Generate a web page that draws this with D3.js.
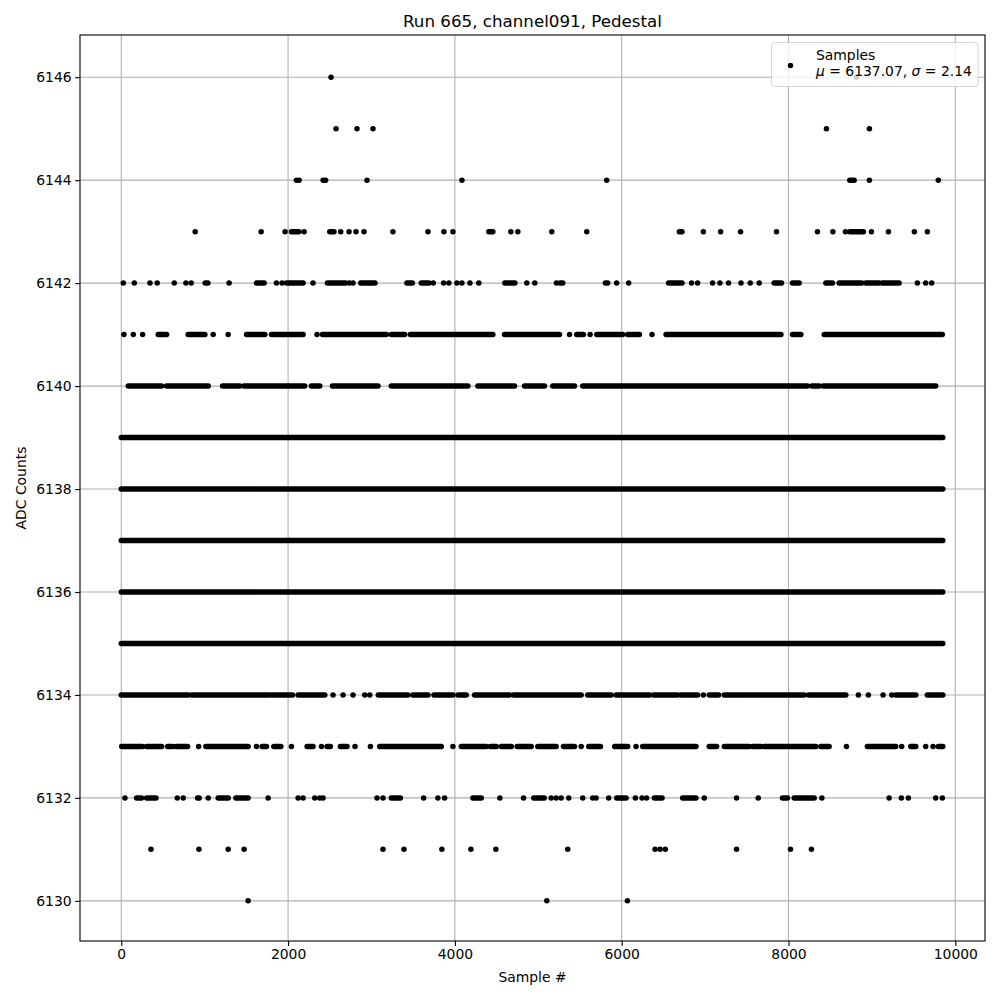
<!DOCTYPE html>
<html>
<head>
<meta charset="utf-8">
<script src="https://cdn.jsdelivr.net/npm/d3@7"></script>
<style>
    body { margin: 0; background: #fff; }
    text { font-family: "DejaVu Sans", sans-serif; fill: #000; }
</style>
</head>
<body>
<div id="chart"></div>
<script>

// Samples, one list per ADC level.
// A plain number is one sample, a [from, to] pair is a dense run of samples.
const row6130 = [1521, 5102, 6068];
const row6131 = [356, 931, 1282, 1473, 3138, 3389, 3844, 4192, 4491, 5353, 6400, 6460, 6523, 7377, 8024, 8275];
const row6132 = [44, [184, 244], [304, 416], 671, 743, 915, 934, 1042, [1162, 1282], [1374, 1521], 1761, 2120, 2180,
    2320, 2380, 2419, 3066, 3138, [3238, 3346], 3625, 3796, 3877, [4216, 4316], 4539, 4823, [4946, 5071], 5154, 5214,
    5274, 5365, 5533, 5653, 5693, 5844, [5940, 6052], 6164, 6244, 6299, [6392, 6484], [6731, 6891], 6990, 7377, 7637,
    [7928, 7988], [8068, 8308], 8400, 9206, 9353, 9437, 9765, 9844];
const row6133 = [[5, 256], [304, 484], [556, 616], [655, 795], 927, [1014, 1521], 1621, [1689, 1741], [1829, 1913],
    2040, [2228, 2299], 2400, [2467, 2507], [2627, 2707], 2802, 2987, [3098, 3837], 3976, [4077, 4376], [4424, 4496],
    [4556, 4676], [4747, 4915], [4994, 5214], [5302, 5434], 5514, [5605, 5745], [5916, 6072], 6172, [6251, 6891],
    [7050, 7138], [7230, 7529], [7569, 7669], [7709, 8328], [8388, 8487], 8695, [8946, 9286], 9357, [9466, 9526],
    9645, 9733, [9796, 9850]];
const row6134 = [[0, 802], [843, 1781], [1813, 2053], [2120, 2440], 2539, 2659, 2779, 2919, 2979, [3082, 3437],
    [3497, 3677], [3749, 3976], [4036, 4136], [4236, 4655], [4703, 5514], [5593, 5873], [5933, 6332], [6380, 6671],
    [6711, 6910], 6979, [7050, 7162], [7230, 7549], [7577, 8188], [8240, 8687], 8838, 8958, 9134, 9238, [9286, 9526],
    [9665, 9850]];
const row6135 = [[0, 9850]];
const row6136 = [[0, 9850]];
const row6137 = [[0, 9850]];
const row6138 = [[0, 9850]];
const row6139 = [[0, 9850]];
const row6140 = [[84, 484], [544, 1042], [1214, 1421], [1469, 2200], [2280, 2380], [2532, 3078], [3238, 4156],
    [4276, 4715], [4835, 5074], [5174, 5434], [5533, 8228], [8280, 8368], [8416, 9765]];
const row6141 = [32, 144, 256, [443, 544], [802, 1002], 1102, 1282, [1502, 1721], [1801, 2180], 2347, [2412, 3178],
    [3238, 3398], [3466, 4455], [4595, 5254], 5374, [5461, 5541], 5621, [5701, 6012], [6072, 6212], 6364,
    [6532, 7909], [8048, 8148], [8428, 9844]];
const row6142 = [24, 156, 344, 431, 635, 775, 838, [1006, 1038], 1293, [1621, 1713], 1861, 1928, [1981, 2180], 2299,
    [2472, 2690], 2735, 2778, [2871, 3042], [3425, 3490], [3597, 3689], 3741, 3865, 3928, 4024, 4084, 4180, 4287,
    [4599, 4719], 4862, 4958, 5218, [5262, 5293], [5805, 5832], 5940, 6084, [6563, 6723], 6838, 6910, 7090, 7178,
    7281, 7430, 7541, 7649, [7828, 7916], [8048, 8128], [8448, 8527], [8607, 8879], [8927, 9086], [9126, 9326],
    9545, 9645, 9717];
const row6143 = [886, 1677, 1964, [2040, 2130], 2192, [2500, 2550], 2631, 2731, 2814, 2910, 3257, 3677, 3868, 3976,
    [4407, 4455], 4671, 4755, 5162, 5581, [6691, 6723], 6979, 7186, 7425, 7856, 8347, 8532, 8683, [8735, 8898],
    8994, 9198, 9509, 9665];
const row6144 = [2100, 2132, 2420, 2450, 2946, 4084, 5820, [8735, 8787], 8970, 9796];
const row6145 = [2575, 2826, 3018, 8455, 8970];
const row6146 = [2515, 8816];

const levels = [6130, 6131, 6132, 6133, 6134, 6135, 6136, 6137, 6138, 6139, 6140, 6141, 6142, 6143, 6144, 6145, 6146];
const rows = [row6130, row6131, row6132, row6133, row6134, row6135, row6136, row6137, row6138, row6139,
    row6140, row6141, row6142, row6143, row6144, row6145, row6146];

const xTicks = [0, 2000, 4000, 6000, 8000, 10000];
const yTicks = [6130, 6132, 6134, 6136, 6138, 6140, 6142, 6144, 6146];

const titleText = "Run 665, channel091, Pedestal";
const meanValue = "6137.07";
const sigmaValue = "2.14";

// Split each row into single samples and dense runs
const points = [];
const runs = [];

rows.forEach(function(row, i) {
    row.forEach(function(d) {
        if (Array.isArray(d)) {
            runs.push({ level: levels[i], x0: d[0], x1: d[1] });
        }
        else {
            points.push({ level: levels[i], x: d });
        }
    });
});

const width = 1000;
const height = 1000;
const margin = { top: 35, right: 15, bottom: 59, left: 80 };

const svg = d3.select("#chart")
    .append("svg")
    .attr("width", width)
    .attr("height", height);

const x = d3.scaleLinear()
    .domain([-495, 10356])
    .range([margin.left, width - margin.right]);

const y = d3.scaleLinear()
    .domain([6129.22, 6146.82])
    .range([height - margin.bottom, margin.top]);

const dotR = 2.75;

// Grid
svg.append("g")
    .selectAll("line")
    .data(xTicks)
    .enter()
    .append("line")
    .attr("x1", function(d) { return x(d); })
    .attr("x2", function(d) { return x(d); })
    .attr("y1", margin.top)
    .attr("y2", height - margin.bottom)
    .attr("stroke", "#b0b0b0")
    .attr("stroke-width", 1.1);

svg.append("g")
    .selectAll("line")
    .data(yTicks)
    .enter()
    .append("line")
    .attr("x1", margin.left)
    .attr("x2", width - margin.right)
    .attr("y1", function(d) { return y(d); })
    .attr("y2", function(d) { return y(d); })
    .attr("stroke", "#b0b0b0")
    .attr("stroke-width", 1.1);

// Samples
svg.append("g")
    .selectAll("line")
    .data(runs)
    .enter()
    .append("line")
    .attr("x1", function(d) { return x(d.x0); })
    .attr("x2", function(d) { return x(d.x1); })
    .attr("y1", function(d) { return y(d.level); })
    .attr("y2", function(d) { return y(d.level); })
    .attr("stroke", "#000")
    .attr("stroke-width", dotR * 2)
    .attr("stroke-linecap", "round");

svg.append("g")
    .selectAll("circle")
    .data(points)
    .enter()
    .append("circle")
    .attr("cx", function(d) { return x(d.x); })
    .attr("cy", function(d) { return y(d.level); })
    .attr("r", dotR)
    .attr("fill", "#000");

// Axes
const xAxis = svg.append("g")
    .attr("transform", "translate(0," + (height - margin.bottom) + ")")
    .call(d3.axisBottom(x).tickValues(xTicks).tickSize(4.9).tickPadding(3.5).tickFormat(d3.format("d")));

const yAxis = svg.append("g")
    .attr("transform", "translate(" + margin.left + ",0)")
    .call(d3.axisLeft(y).tickValues(yTicks).tickSize(4.9).tickPadding(3.5).tickFormat(d3.format("d")));

[xAxis, yAxis].forEach(function(g) {
    g.select(".domain").remove();
    g.selectAll(".tick line").attr("stroke", "#000").attr("stroke-width", 1.1);
    g.selectAll(".tick text")
        .style("font-family", "DejaVu Sans")
        .style("font-size", "13.9px")
        .attr("fill", "#000");
});

// Frame
svg.append("rect")
    .attr("x", margin.left)
    .attr("y", margin.top)
    .attr("width", width - margin.left - margin.right)
    .attr("height", height - margin.top - margin.bottom)
    .attr("fill", "none")
    .attr("stroke", "#000")
    .attr("stroke-width", 1.1);

// Labels
const cx = (margin.left + width - margin.right) / 2;

svg.append("text")
    .attr("x", cx)
    .attr("y", 27)
    .attr("text-anchor", "middle")
    .style("font-size", "16.7px")
    .text(titleText);

svg.append("text")
    .attr("x", cx)
    .attr("y", 982)
    .attr("text-anchor", "middle")
    .style("font-size", "13.9px")
    .text("Sample #");

svg.append("text")
    .attr("transform", "translate(26," + ((margin.top + height - margin.bottom) / 2) + ") rotate(-90)")
    .attr("text-anchor", "middle")
    .style("font-size", "13.9px")
    .text("ADC Counts");

// Legend
const legend = svg.append("g");

legend.append("rect")
    .attr("x", 771.5)
    .attr("y", 42.5)
    .attr("width", 206.5)
    .attr("height", 44)
    .attr("rx", 3)
    .attr("fill", "#fff")
    .attr("fill-opacity", 0.8)
    .attr("stroke", "#cccccc")
    .attr("stroke-opacity", 0.8)
    .attr("stroke-width", 1);

legend.append("circle")
    .attr("cx", 790.5)
    .attr("cy", 65.5)
    .attr("r", dotR)
    .attr("fill", "#000");

legend.append("text")
    .attr("x", 816)
    .attr("y", 59.5)
    .style("font-size", "13.9px")
    .text("Samples");

const stats = legend.append("text")
    .attr("x", 816)
    .attr("y", 76)
    .style("font-size", "13.9px");

stats.append("tspan").style("font-style", "italic").text("\u03bc");
stats.append("tspan").text(" = " + meanValue + ", ");
stats.append("tspan").style("font-style", "italic").text("\u03c3");
stats.append("tspan").text(" = " + sigmaValue);

</script>
</body>
</html>
